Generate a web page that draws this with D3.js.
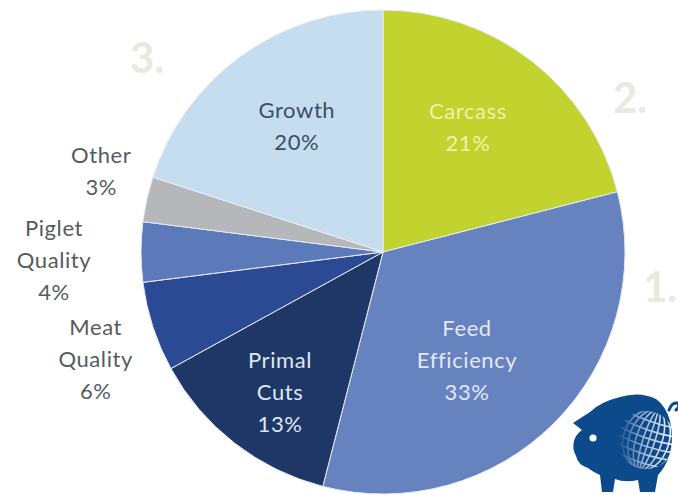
<!DOCTYPE html>
<html>
<head>
<meta charset="utf-8">
<script src="https://cdn.jsdelivr.net/npm/d3@7"></script>
<style>
  html, body { margin: 0; padding: 0; background: #ffffff; }
  svg { display: block; }
</style>
</head>
<body>
<svg id="chart" width="678" height="495"></svg>
<script>
// Breeding goal weighting (share of total, %)
const categories = ["Carcass", "Feed Efficiency", "Primal Cuts", "Meat Quality", "Piglet Quality", "Other", "Growth"];
const values = [21, 33, 13, 6, 4, 3, 20];
const labelLines = [["Carcass"], ["Feed", "Efficiency"], ["Primal", "Cuts"], ["Meat", "Quality"], ["Piglet", "Quality"], ["Other"], ["Growth"]];
const rankLabels = ["1.", "2.", "3."];

// Presentation
const colors = ["#c2d22e", "#6682bf", "#1f3766", "#2b4a93", "#5c79ba", "#b6b7bb", "#c6ddef"];
const textColors = ["#eef3a6", "#e2e8f4", "#dfe6f3", "#565b62", "#565b62", "#565b62", "#3c4e66"];
const outside = [false, false, false, true, true, true, false];
// small nudges from the computed label anchor
const nudge = [[-7, -6], [-22, 2], [-11, 22], [-2, 15], [-29, 8], [11, -15], [2, -4]];

const W = 678, H = 495;
const cx = 383, cy = 252, R = 242;
const lineH = 32;

const svg = d3.select("#chart");

// faint rank numbers behind the pie
const rankPos = [[643, 302], [613, 113], [130, 73]];
svg.append("g").selectAll("text")
  .data(rankLabels)
  .join("text")
  .attr("x", (d, i) => rankPos[i][0])
  .attr("y", (d, i) => rankPos[i][1])
  .attr("font-family", "Lato, 'Open Sans', sans-serif")
  .attr("font-weight", "bold")
  .attr("font-size", 42)
  .attr("fill", "#ebe8df")
  .text(d => d);

const pie = d3.pie().sort(null).value(d => d)(values);
const arc = d3.arc().innerRadius(0).outerRadius(R);
const inLabelArc = d3.arc().innerRadius(150).outerRadius(150);
const outLabelArc = d3.arc().innerRadius(300).outerRadius(300);

const g = svg.append("g").attr("transform", `translate(${cx},${cy})`);

g.selectAll("path.slice")
  .data(pie)
  .join("path")
  .attr("class", "slice")
  .attr("d", arc)
  .attr("fill", (d, i) => colors[i])
  .attr("stroke", "#e6edf7")
  .attr("stroke-width", 1);

// slice labels
g.selectAll("text.label")
  .data(pie)
  .join("text")
  .attr("class", "label")
  .attr("text-anchor", "middle")
  .attr("font-family", "Lato, 'Open Sans', sans-serif")
  .attr("font-size", 22)
  .attr("letter-spacing", 0.6)
  .attr("fill", (d, i) => textColors[i])
  .each(function(d, i) {
    const c = (outside[i] ? outLabelArc : inLabelArc).centroid(d);
    const x = c[0] + nudge[i][0];
    const y = c[1] + nudge[i][1];
    const lines = labelLines[i].concat([values[i] + "%"]);
    const top = y - (lines.length - 1) * lineH / 2;
    d3.select(this).selectAll("tspan")
      .data(lines)
      .join("tspan")
      .attr("x", x)
      .attr("y", (l, k) => top + k * lineH)
      .attr("dy", "0.35em")
      .text(l => l);
  });

// pig-and-globe emblem
const logo = svg.append("g").attr("transform", "translate(560,380)");
const defs = svg.append("defs");
defs.append("clipPath").attr("id", "globeClip")
  .append("circle").attr("cx", 86).attr("cy", 60).attr("r", 29);
const grad = defs.append("linearGradient").attr("id", "globeFade")
  .attr("x1", "0").attr("x2", "1").attr("y1", "0").attr("y2", "0");
grad.append("stop").attr("offset", "0%").attr("stop-color", "#fff").attr("stop-opacity", 0);
grad.append("stop").attr("offset", "45%").attr("stop-color", "#fff").attr("stop-opacity", 0.6);
grad.append("stop").attr("offset", "100%").attr("stop-color", "#fff").attr("stop-opacity", 1);
const fadeMask = defs.append("mask").attr("id", "globeMask");
fadeMask.append("rect").attr("x", 57).attr("y", 25).attr("width", 60).attr("height", 70).attr("fill", "url(#globeFade)");

const pigBlue = "#0d4a8c";
logo.append("path")
  .attr("d", "M13,43 L30,32 Q40,22 60,17 Q80,11 96,19 Q111,30 112,56 Q112,80 98,95 L95,112 L80,112 L78,100 Q65,103 55,99 L53,112 L42,112 L40,95 Q33,92 28,88 Q18,85 16,76 Q12,69 14,61 Q16,54 22,50 Z")
  .attr("fill", pigBlue);
logo.append("path")
  .attr("d", "M109,30 Q112,22 117,23 Q121,26 116,30")
  .attr("fill", "none").attr("stroke", pigBlue).attr("stroke-width", 3).attr("stroke-linecap", "round");
logo.append("circle").attr("cx", 33).attr("cy", 58).attr("r", 3.6).attr("fill", "#ffffff");

const grid = logo.append("g").attr("clip-path", "url(#globeClip)").attr("mask", "url(#globeMask)")
  .attr("fill", "none").attr("stroke", "#ffffff").attr("stroke-width", 1.6);
[6, 13, 20, 26].forEach(rx => {
  grid.append("ellipse").attr("cx", 89).attr("cy", 60).attr("rx", rx).attr("ry", 31)
    .attr("transform", "rotate(18,89,60)");
});
grid.append("line").attr("x1", 89).attr("y1", 25).attr("x2", 89).attr("y2", 95)
  .attr("transform", "rotate(18,89,60)");
[-21, -12, -4, 4, 12, 21].forEach(dy => {
  grid.append("path")
    .attr("d", `M55,${60 + dy} Q89,${60 + dy + 6} 120,${60 + dy}`)
    .attr("transform", "rotate(18,89,60)");
});
</script>
</body>
</html>
